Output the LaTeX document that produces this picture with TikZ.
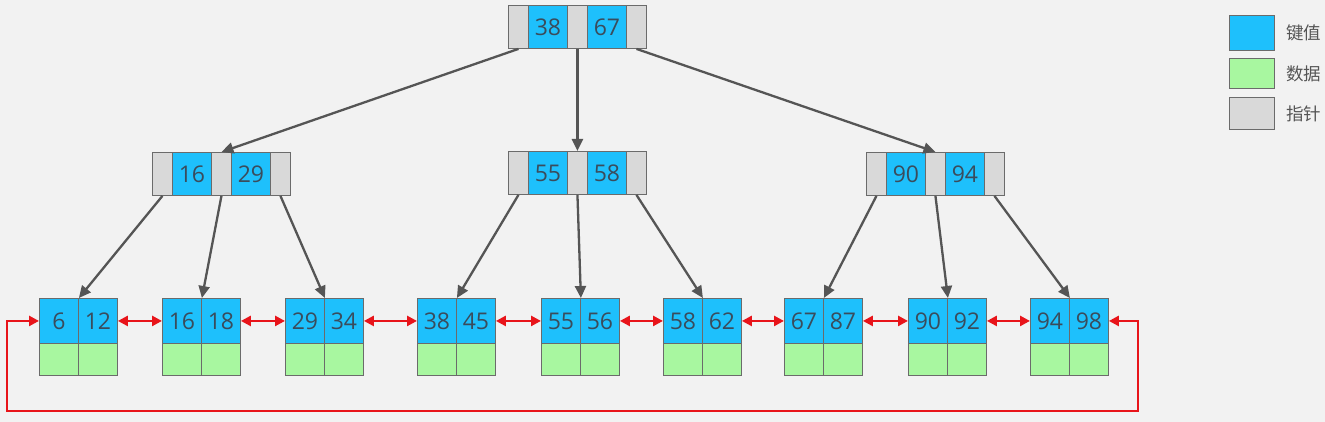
\documentclass[tikz,border=0pt]{standalone}
\usepackage{fontspec}
\setmainfont{Open Sans}
\newfontfamily\cjk{Noto Sans CJK SC}
\usetikzlibrary{arrows.meta}
\definecolor{bg}{HTML}{F2F2F2}
\definecolor{keyc}{HTML}{1EC0FC}
\definecolor{datac}{HTML}{A8F7A0}
\definecolor{ptrc}{HTML}{D9D9D9}
\definecolor{edgec}{HTML}{6B6B6B}
\definecolor{txtc}{HTML}{3A4C5C}
\definecolor{arrc}{HTML}{555555}
\definecolor{linkc}{HTML}{E8141A}
\tikzset{
  cell/.style={draw=edgec, line width=0.9pt, inner sep=0pt, anchor=north west,
     text=txtc, font=\fontsize{23}{27}\selectfont},
  keycell/.style={cell, fill=keyc, minimum width=39pt, minimum height=#1},
  keycell/.default=42pt,
  ptrcell/.style={cell, fill=ptrc, minimum width=20pt, minimum height=#1},
  ptrcell/.default=42pt,
  datacell/.style={cell, fill=datac, minimum width=39pt, minimum height=32pt},
  treearrow/.style={draw=arrc, line width=2.3pt, -{Triangle[length=12pt,width=11pt]}},
  linkarrow/.style={draw=linkc, line width=2.6pt, {Triangle[length=10pt,width=10pt]}-{Triangle[length=10pt,width=10pt]}},
  legbox/.style={draw=edgec, line width=0.9pt, anchor=north west, minimum width=45pt, inner sep=0pt},
  legtext/.style={anchor=west, text=arrc, font=\cjk\fontsize{17.5}{20}\selectfont},
}
\newcommand{\innode}[5]{% name, x, y, key1, key2
  \node[ptrcell=43pt] (#1-p1) at (#2,#3) {};
  \node[keycell=43pt] (#1-k1) at (#2+20,#3) {#4};
  \node[ptrcell=43pt] (#1-p2) at (#2+59,#3) {};
  \node[keycell=43pt] (#1-k2) at (#2+79,#3) {#5};
  \node[ptrcell=43pt] (#1-p3) at (#2+118,#3) {};
}
\newcommand{\leafnode}[4]{% name, x, key1, key2
  \node[keycell=45pt] (#1-a) at (#2,298) {#3};
  \node[keycell=45pt] (#1-b) at (#2+39,298) {#4};
  \node[datacell] (#1-c) at (#2,343) {};
  \node[datacell] (#1-d) at (#2+39,343) {};
}
\begin{document}
\begin{tikzpicture}[x=1pt,y=-1pt]
\useasboundingbox (0,0) rectangle (1325,422);
\fill[bg] (0,0) rectangle (1325,422);

% root
\innode{r}{508}{5}{38}{67}
% internal
\innode{i1}{152}{152}{16}{29}
\innode{i2}{508}{151}{55}{58}
\innode{i3}{866}{152}{90}{94}
% leaves
\leafnode{l1}{39}{6}{12}
\leafnode{l2}{162}{16}{18}
\leafnode{l3}{285}{29}{34}
\leafnode{l4}{417}{38}{45}
\leafnode{l5}{541}{55}{56}
\leafnode{l6}{663}{58}{62}
\leafnode{l7}{784}{67}{87}
\leafnode{l8}{908}{90}{92}
\leafnode{l9}{1030}{94}{98}

% tree edges
\draw[treearrow] (r-p1.south) -- (i1-p2.north);
\draw[treearrow] (r-p2.south) -- (i2-p2.north);
\draw[treearrow] (r-p3.south) -- (i3-p2.north);
\foreach \i/\a/\b/\c in {i1/l1/l2/l3, i2/l4/l5/l6, i3/l7/l8/l9}{
  \draw[treearrow] (\i-p1.south) -- (\a-a.north east);
  \draw[treearrow] (\i-p2.south) -- (\b-a.north east);
  \draw[treearrow] (\i-p3.south) -- (\c-a.north east);
}

% leaf links
\foreach \a/\b in {l1/l2,l2/l3,l3/l4,l4/l5,l5/l6,l6/l7,l7/l8,l8/l9}{
  \draw[linkarrow] (\a-b.east) -- (\b-a.west);
}
\coordinate (lr) at (1138,411);
\coordinate (ll) at (7,411);
\draw[linkarrow] (l9-b.east) -- (l9-b.east -| lr) -- (lr) -- (ll) -- (ll |- l1-a.west) -- (l1-a.west);

% legend
\node[legbox, fill=keyc, minimum height=35pt] (lg1) at (1229,15) {};
\node[legbox, fill=datac, minimum height=30pt] (lg2) at (1229,58) {};
\node[legbox, fill=ptrc, minimum height=32pt] (lg3) at (1229,97) {};
\node[legtext] (lt1) at ([xshift=8pt]lg1.east) {键值};
\node[legtext] (lt2) at ([xshift=8pt]lg2.east) {数据};
\node[legtext] (lt3) at ([xshift=8pt]lg3.east) {指针};
\end{tikzpicture}
\end{document}
